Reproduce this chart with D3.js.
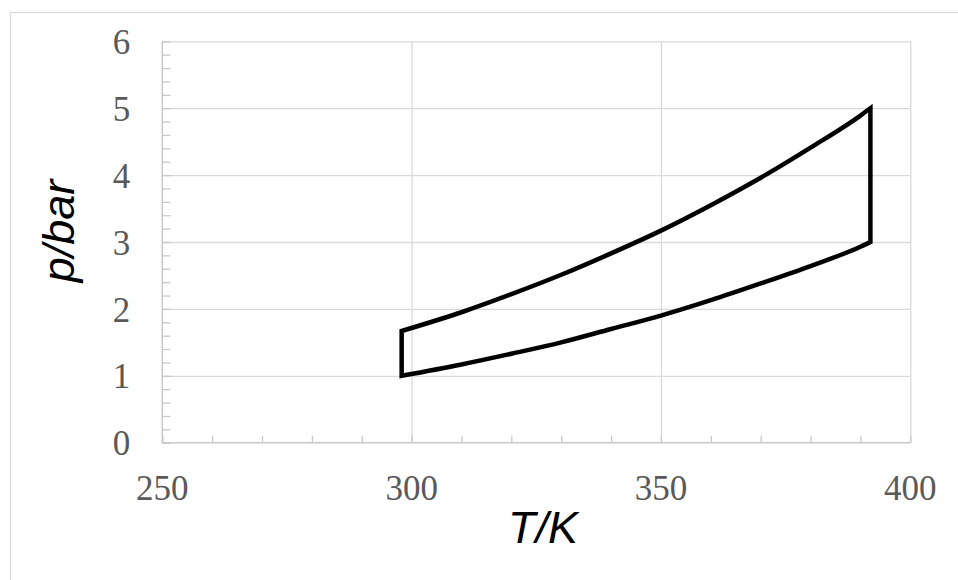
<!DOCTYPE html>
<html>
<head>
<meta charset="utf-8">
<script src="https://cdn.jsdelivr.net/npm/d3@7"></script>
<style>
  body { margin: 0; background: #fff; }
  svg { display: block; }
  .tick-label { font-family: 'Times New Roman', Times, 'Liberation Serif', 'DejaVu Serif', 'Noto Serif', serif; }
  .axis-title { font-family: 'Liberation Sans', Arial, 'DejaVu Sans', sans-serif; font-style: italic; }
</style>
</head>
<body>
<div id="chart"></div>
<script>
var chart_width = 958;
var chart_height = 580;

// cycle: T in K, p in bar
var temps = [298, 310, 320, 330, 340, 350, 360, 370, 380, 390, 392];
var p_low = [1.00, 1.17, 1.33, 1.50, 1.70, 1.90, 2.13, 2.38, 2.64, 2.93, 3.00];
var p_high = [1.67, 1.95, 2.22, 2.51, 2.83, 3.17, 3.55, 3.96, 4.41, 4.89, 5.00];

var x_ticks = [250, 300, 350, 400];
var y_ticks = [0, 1, 2, 3, 4, 5, 6];

var margin = {left: 162.3, right: 958 - 910.3, top: 41.3, bottom: 580 - 442.7};

var x = d3.scaleLinear().domain([250, 400]).range([margin.left, chart_width - margin.right]);
var y = d3.scaleLinear().domain([0, 6]).range([chart_height - margin.bottom, margin.top]);

var svg = d3.select('#chart')
            .append('svg')
            .attr('width', chart_width)
            .attr('height', chart_height);

// outer chart frame
svg.append('rect')
   .attr('x', 10.5).attr('y', 12.5)
   .attr('width', 1000).attr('height', 1000)
   .attr('fill', 'none')
   .attr('stroke', '#d9d9d9')
   .attr('stroke-width', 1.2);

//Gridlines
svg.append('g')
   .attr('transform', 'translate(' + margin.left + ',0)')
   .call(d3.axisLeft(y).tickValues(y_ticks.slice(1)).tickSize(-(x(400) - x(250))).tickFormat(''))
   .call(function(g){ g.select('.domain').remove(); })
   .selectAll('line').attr('stroke', '#d9d9d9').attr('stroke-width', 1.3);

svg.append('g')
   .attr('transform', 'translate(0,' + y(0) + ')')
   .call(d3.axisBottom(x).tickValues(x_ticks.slice(1)).tickSize(-(y(0) - y(6))).tickFormat(''))
   .call(function(g){ g.select('.domain').remove(); })
   .selectAll('line').attr('stroke', '#d9d9d9').attr('stroke-width', 1.3);

//Minor ticks
svg.append('g')
   .attr('transform', 'translate(' + margin.left + ',0)')
   .call(d3.axisRight(y).ticks(30).tickSize(8).tickFormat(''))
   .call(function(g){ g.select('.domain').remove(); })
   .selectAll('line').attr('stroke', '#c8c8c8').attr('stroke-width', 1.3);

svg.append('g')
   .attr('transform', 'translate(0,' + y(0) + ')')
   .call(d3.axisTop(x).ticks(15).tickSize(7).tickFormat(''))
   .call(function(g){ g.select('.domain').remove(); })
   .selectAll('line').attr('stroke', '#c8c8c8').attr('stroke-width', 1.3);

//Axis lines
svg.append('line')
   .attr('x1', x(250)).attr('x2', x(250)).attr('y1', y(0)).attr('y2', y(6))
   .attr('stroke', '#c8c8c8').attr('stroke-width', 1.5);
svg.append('line')
   .attr('x1', x(250)).attr('x2', x(400)).attr('y1', y(0)).attr('y2', y(0))
   .attr('stroke', '#c8c8c8').attr('stroke-width', 1.5);

//Tick labels
svg.append('g').selectAll('text')
   .data(y_ticks).enter().append('text')
   .attr('class', 'tick-label')
   .attr('x', margin.left - 32)
   .attr('y', function(d){ return y(d); })
   .attr('dy', '0.36em')
   .attr('text-anchor', 'end')
   .attr('font-size', 35)
   .attr('fill', '#595959')
   .text(function(d){ return d; });

svg.append('g').selectAll('text')
   .data(x_ticks).enter().append('text')
   .attr('class', 'tick-label')
   .attr('x', function(d){ return x(d); })
   .attr('y', y(0) + 57)
   .attr('text-anchor', 'middle')
   .attr('font-size', 35)
   .attr('fill', '#595959')
   .text(function(d){ return d; });

//Axis titles
svg.append('text')
   .attr('class', 'axis-title')
   .attr('x', 543).attr('y', 543)
   .attr('text-anchor', 'middle')
   .attr('font-size', 45)
   .attr('fill', '#000')
   .text('T/K');

svg.append('text')
   .attr('class', 'axis-title')
   .attr('transform', 'translate(74,231) rotate(-90)')
   .attr('text-anchor', 'middle')
   .attr('font-size', 45)
   .attr('fill', '#000')
   .text('p/bar');

//Cycle: lower branch going up in T, then upper branch coming back
var lower = temps.map(function(t, i){ return [t, p_low[i]]; });
var upper = temps.map(function(t, i){ return [t, p_high[i]]; }).reverse();

var line = d3.line()
             .x(function(d){ return x(d[0]); })
             .y(function(d){ return y(d[1]); })
             .curve(d3.curveMonotoneX);

var cycle_d = line(lower) + line(upper).replace(/^M/, 'L') + 'Z';

svg.append('path')
   .attr('d', cycle_d)
   .attr('fill', 'none')
   .attr('stroke', '#000')
   .attr('stroke-width', 4.5)
   .attr('stroke-linejoin', 'miter');
</script>
</body>
</html>
